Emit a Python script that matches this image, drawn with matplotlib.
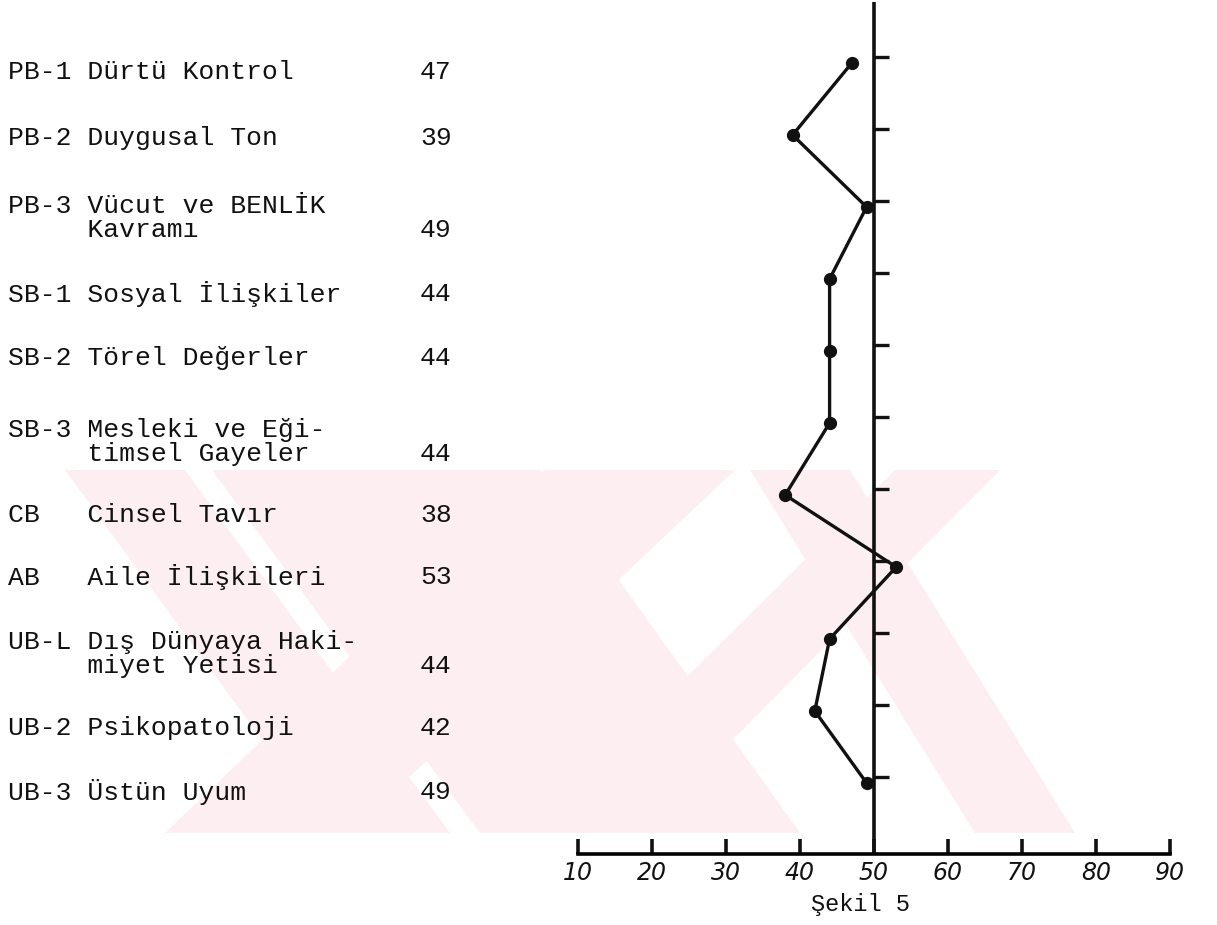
import matplotlib
matplotlib.use("Agg")
import matplotlib.pyplot as plt
from matplotlib.patches import Polygon

# scale names (typewriter column) and the scores drawn on the profile
labels = [
    "PB-1 Dürtü Kontrol",
    "PB-2 Duygusal Ton",
    "PB-3 Vücut ve BENLİK\n     Kavramı",
    "SB-1 Sosyal İlişkiler",
    "SB-2 Törel Değerler",
    "SB-3 Mesleki ve Eği-\n     timsel Gayeler",
    "CB   Cinsel Tavır",
    "AB   Aile İlişkileri",
    "UB-L Dış Dünyaya Haki-\n     miyet Yetisi",
    "UB-2 Psikopatoloji",
    "UB-3 Üstün Uyum",
]
scores = [47, 39, 49, 44, 44, 44, 38, 53, 44, 42, 49]
scale_ticks = [10, 20, 30, 40, 50, 60, 70, 80, 90]
caption = "Şekil 5"

W, H = 1217, 925
mono = "Liberation Mono"

# layout (pixels)
label_top_px = [72, 138, 206, 294, 358, 430, 515, 577, 642, 728, 792]
line_gap_px = 24
row0_px, row_gap_px = 63, 72
px_per_unit = 7.4
x10_px = 578
axis_px = 854

fig = plt.figure(figsize=(W / 100, H / 100), dpi=100)

# background layer in pixel units: watermark + text column
bg = fig.add_axes([0, 0, 1, 1])
bg.set_xlim(0, W)
bg.set_ylim(H, 0)
bg.axis("off")

wm_top, wm_bot = 470, 833
bands = [
    ((65, 185), (330, 450)),
    ((212, 540), (480, 800)),
    ((545, 735), (165, 350)),
    ((895, 1000), (530, 640)),
    ((750, 850), (975, 1075)),
]
for (t0, t1), (b0, b1) in bands:
    bg.add_patch(Polygon([(t0, wm_top), (t1, wm_top), (b1, wm_bot), (b0, wm_bot)],
                         closed=True, fc="#fdeef2", ec="none", zorder=0))

for lab, sc, y in zip(labels, scores, label_top_px):
    lines = lab.split("\n")
    for k, line in enumerate(lines):
        bg.text(8, y + k * line_gap_px, line, family=mono, fontsize=19,
                va="center", ha="left", color="#111111")
    bg.text(420, y + (len(lines) - 1) * line_gap_px, str(sc), family=mono,
            fontsize=19, va="center", ha="left", color="#111111")

# chart layer
ax = fig.add_axes([0, 0, 1, 1], facecolor="none")
ax.set_xlim(10 - x10_px / px_per_unit, 10 + (W - x10_px) / px_per_unit)
ax.set_ylim((H - row0_px) / row_gap_px, -row0_px / row_gap_px)
rows = list(range(len(scores)))
axis_row = (axis_px - row0_px) / row_gap_px
top_row = (2 - row0_px) / row_gap_px

ax.vlines(50, top_row, axis_row, color="#111111", lw=2.6)
ax.hlines([r - 0.08 for r in rows], 50, 52.0, color="#111111", lw=2.4)
ax.plot(scores, rows, color="#111111", lw=2.4, marker="o", ms=8.5)

for s in ["left", "right", "top"]:
    ax.spines[s].set_visible(False)
ax.spines["bottom"].set_position(("data", axis_row))
ax.spines["bottom"].set_bounds(10, 90)
ax.spines["bottom"].set_linewidth(2.6)
ax.set_yticks([])
ax.set_xticks(scale_ticks)
ax.set_xticklabels([str(t) for t in scale_ticks], fontstyle="italic",
                   family="DejaVu Sans", fontsize=17)
ax.tick_params(axis="x", direction="in", length=11, width=2.6, pad=5,
               colors="#111111")

fig.text(860 / W, 1 - 905 / H, caption, family=mono, fontsize=17,
         ha="center", va="center", color="#111111")

fig.savefig("out.png", dpi=100)
